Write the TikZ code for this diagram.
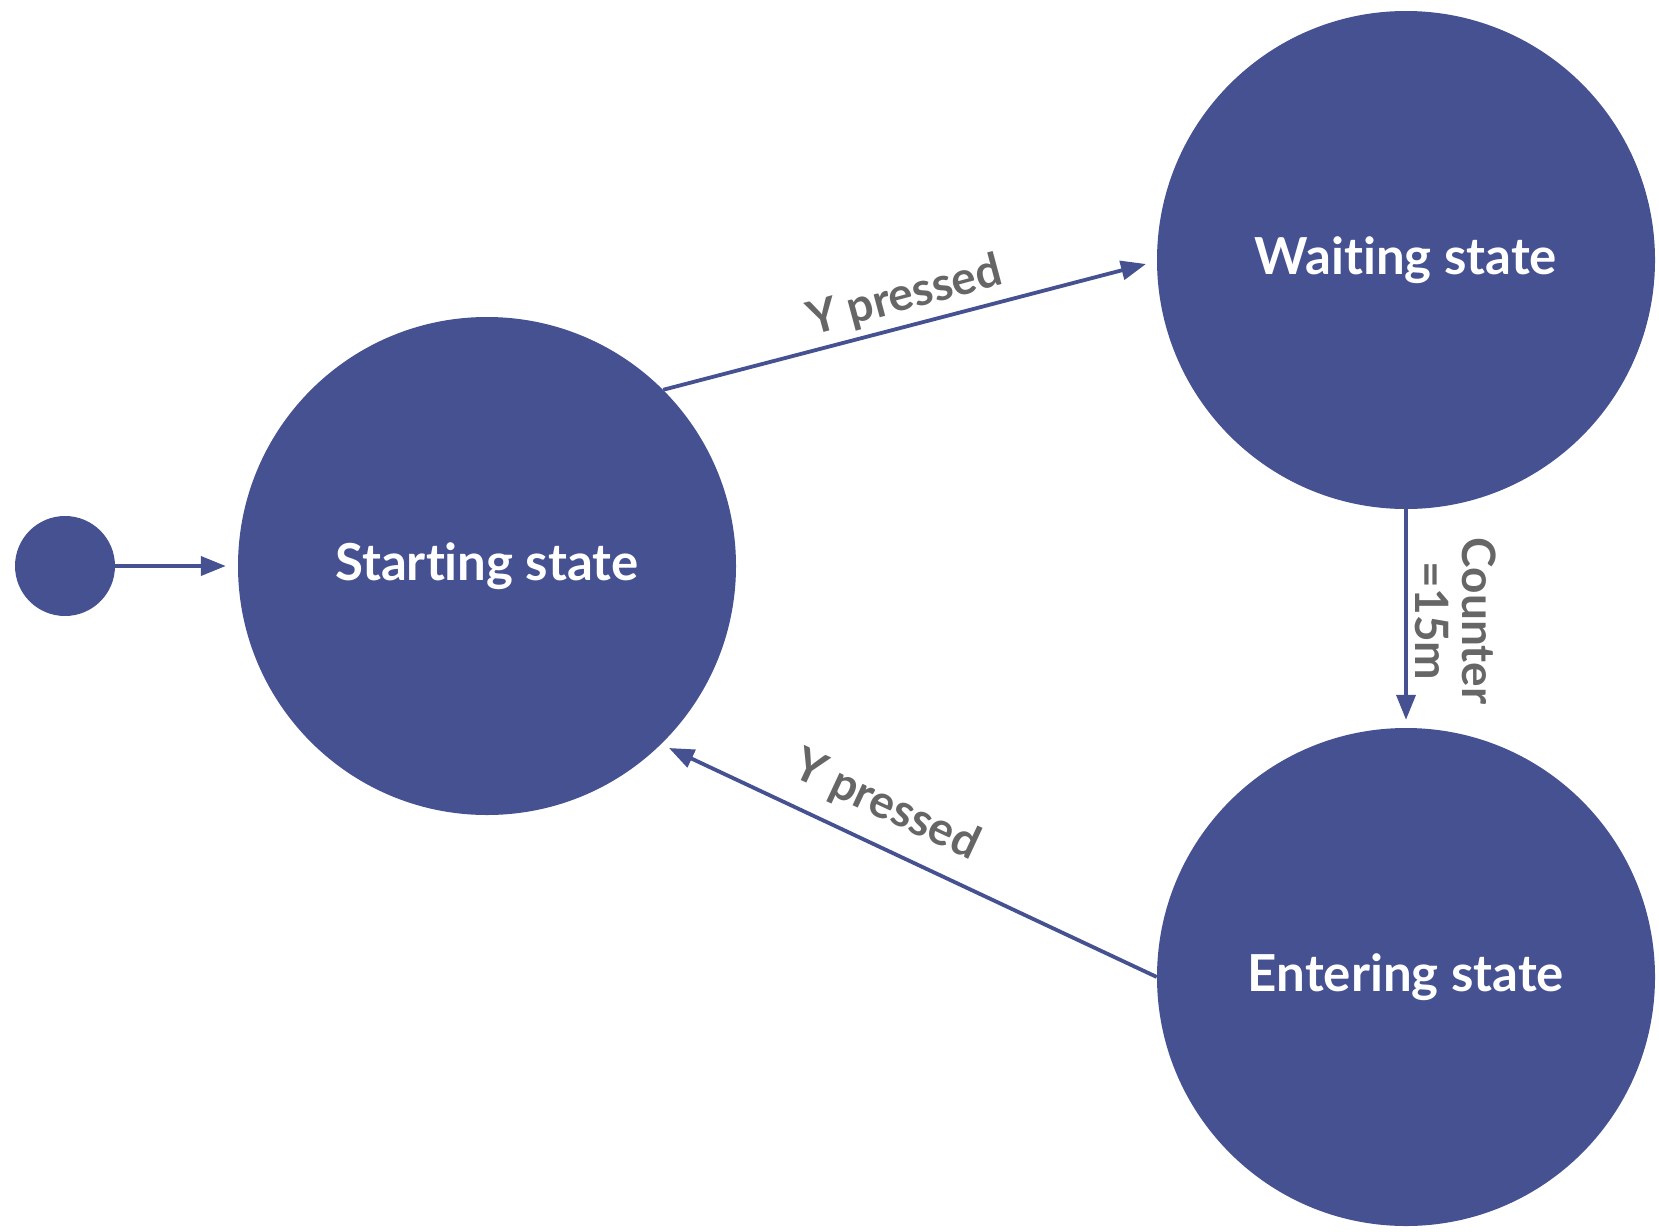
\documentclass[tikz,border=0pt]{standalone}
\usepackage{fontspec}
\setmainfont{Lato}[Ligatures={NoCommon}]
\usetikzlibrary{arrows.meta}
\definecolor{stateblue}{RGB}{69,81,144}
\definecolor{labelgray}{RGB}{102,102,102}
\begin{document}
\begin{tikzpicture}[x=1pt,y=-1pt,
  statenode/.style={circle,fill=stateblue,minimum size=498pt,inner sep=0pt,text=white,font=\fontsize{51}{60}\selectfont\bfseries},
  initnode/.style={circle,fill=stateblue,minimum size=100pt,inner sep=0pt},
  conn/.style={draw=stateblue,line width=3.8pt,-{Triangle[length=25pt,width=19pt]}},
  lbl/.style={text=labelgray,font=\fontsize{46}{47}\selectfont\bfseries,inner sep=0pt,align=center}]
\useasboundingbox (0,0) rectangle (1659,1231);
\node[initnode] (init) at (65,566) {};
\node[statenode] (S) at (487,566) {Start\kern0pt ing state};
\node[statenode] (W) at (1406,260) {Wait\kern0pt ing state};
\node[statenode] (E) at (1406,977) {Entering state};
\coordinate (wtip) at (1146,264);
\coordinate (stip) at (669,748);
\draw[conn] (init.east) -- ([xshift=-12pt]S.west);
\draw[conn] (S.45) -- (wtip);
\draw[conn] (W.south) -- ([yshift=8pt]E.north);
\draw[conn] (E.west) -- (stip);
\node[lbl,rotate=15] (l1) at (905,297) {Y pressed};
\node[lbl,rotate=-25] (l2) at (886,806) {Y pressed};
\node[lbl,rotate=-90] (l3) at (1456,621) {Counter\\=15m};
\end{tikzpicture}
\end{document}
